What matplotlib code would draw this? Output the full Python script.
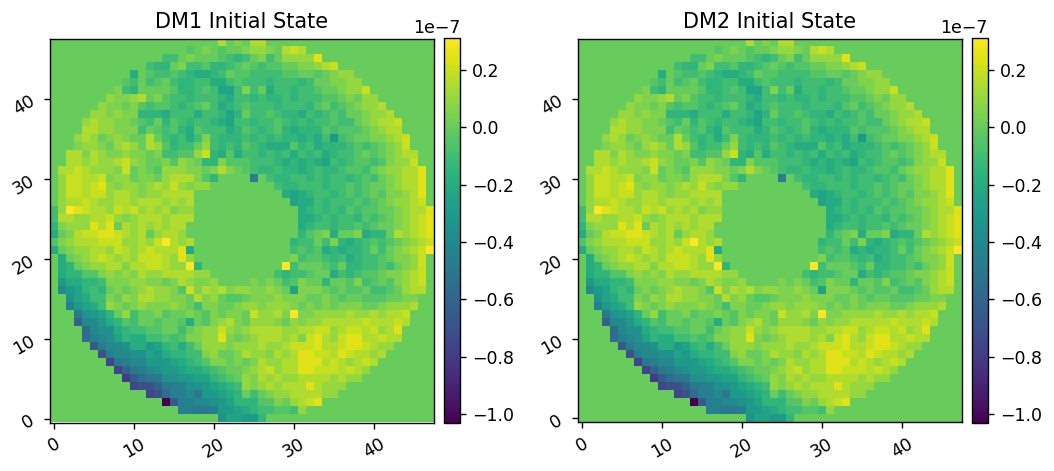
import numpy as np
import matplotlib
matplotlib.use("Agg")
import matplotlib.pyplot as plt

# Colour code of each actuator: 'a'..'z' -> -1.00 .. +0.25 (step 0.05) in units of 1e-7
LEVELS = "abcdefghijklmnopqrstuvwxyz"
SPECIAL = {'.': 0.0, '+': 0.31, '@': -1.03}
UNIT = 1e-7
N_ACT = 48

TITLES = ["DM1 Initial State", "DM2 Initial State"]

# (first column, codes) for rows 47 (top) down to 0 (bottom); '.' = zero / outside pupil
ROW_DATA = [
    (21, "xuvuxx"),
    (16, "utuvutuuvwwvuxyx"),
    (14, "ssuvuuutsrsuvsuwwwwz"),
    (12, "srruvsstrrstutsttuuvvwxy"),
    (10, "qutsstsrqq" "rsut" "tssssttuut" "uvww"),
    (9, "tsustusrrs" "sqqst" "sssrsssrsu" "uvvww"),
    (8, "vsruuuutrr" "stspps" "vsuqssrsst" "uuvwwy"),
    (7, "wvvwxuvtss" "rsssrqs" "srsrrsrsss" "ttuvuww"),
    (6, "wvvuvtstts" "rstusqrs" "tsssrsssrt" "ustuvwwx"),
    (5, "wwvwvvrrrq" "sssqssrpr" "usstsrrqsr" "stsuuvwwx"),
    (4, "wxwwvvutsu" "rtsrssrqps" "srsstsrsrs" "stssuvwxxy"),
    (4, "xxwwvvvsut" "strqtsssqr" "tsrstrqrrr" "tstttuvwxx"),
    (3, "wxwuvwvuux" "usrsqsvsrrr" "srsrsrrqrq" "sostuuvvwxy"),
    (3, "vwwvuwxwux" "wtrssuwsrsr" "tsrqqqtrsq" "rrrststuvwy"),
    (2, "xxvxwvvwvv" "uvssttwyrqtq" "ssrsrsqsrs" "qrsstutuvwxx"),
    (2, "xxwxwwxywv" "uuvtwvurrvtt" "tsssrqrqrq" "psrsttstvwwy"),
    (1, "xxyxwwwvyu" "vutwwwvvuvxvu" "tsrrsrrqrs" "rrsttsuvwwxxz"),
    (1, "wyyxxyvwwu" "vvuwxxxvtruu" ".." "lusrrssrsrssrstsuvwxxz"),
    (1, "wyyxyzwvwwvwxwy" "wvww" "........" "srrs" "ssrsststuuvwxxz"),
    (1, "wyyxyywxxwvwwxxxxu" ".........." "qpq" "rssrststutvvwxz"),
    (1, "wxxyxwwxxwxxxwxwx" "............" "pq" "qsrssststuvwwxy"),
    (0, "sw+zyxxwyxywxwxvww" "............" "uqrsrsrtsttuuvwxxz"),
    (0, "sxxwwxxywvwxxxwxxx" "............" "uqqrsrssrtstuvwxyz"),
    (0, "rvwwwzxzuxwxwxwxx" ".............." "qrssrsststuuvwxyz"),
    (0, "quvxyyzzyxwxuwxxw" ".............." "rtuvquuvqrruxwxyz"),
    (0, "tvwxxxyyywwxwy+xwx" "............" "rssusvrqrststuvwxy"),
    (0, "quvwwxxwyxwxyxxxzq" "............" "ststqrqrrsusuvwxy+"),
    (1, "quvwxyxwxwyyyxwzw" "............" "vsttsrsqrsstuvvwy"),
    (1, "qruvwwxxvxxyyxww+r" ".........." "+suuutsurrsstsuvwy"),
    (1, "qrrttvwvwvxwwxxxxww" "........" "srsstuuqsrsttuvvwxy"),
    (1, "oqqrrsvvvwwvvuvxwvvwuu" ".." "vuvustvuuruutvstutvwxy"),
    (1, "moprsruvuvwxwwvtyvxwxvw" "wvvwvupvvvututtusstuwxx"),
    (2, "npqssvuwvxxwwvvuxvwutt" "uvvvwvvvuuvutuutttuuvv"),
    (2, "lopqswvuvwvvvwvusvvuuv" "wwvwwwvuvuvuvvvuuvwwwx"),
    (3, "knopruwsuuvtuuvutvuvv" "uywwxv+vvwwwwxwwxwxxy"),
    (3, "immoqrtsuutuutqutvwxv" "uwwwvuwvwwxxxxxyxxxyx"),
    (4, "jmnnqrssttuusuvwwywv" "wxxxxwwxxyywxyyxywxz"),
    (4, "jlmnprqqsststvvwwzvu" "vwxxxwxvyzxwyzzxxyxx"),
    (5, "hlmmnqqoprsqsuwwwvw" "wwxwwxyyyzxxyzzyxww"),
    (6, "glmmnnpoqrrssvwuuv" "xwwvxwxzzyyxzyxxwx"),
    (7, "fklmmooopqrstvvuv" "uvxwwxxzzzxyxwxyx"),
    (8, "fiklmnoopqqrstuu" "vwxywxxzzyyyxyxw"),
    (9, "ehjkknnoopprstu" "wvxwxwwxxxxwxww"),
    (10, "fggikllnnopqrs" "wvwxwxxxzxwwwu"),
    (12, "fgjllmkoopqr" "usuvwwxxxxww"),
    (14, "@hllmmnopr" "rrttvuwxyz"),
    (16, "llkkloop" "qrssttsw"),
    (21, "nppoor"),
]


def decode(start, codes):
    vals = np.zeros(N_ACT)
    for i, ch in enumerate(codes):
        c = start + i
        if c >= N_ACT:
            break
        v = SPECIAL[ch] if ch in SPECIAL else -1.0 + 0.05 * LEVELS.index(ch)
        vals[c] = v * UNIT
    return vals


grid = np.array([decode(s, c) for s, c in ROW_DATA])[::-1]  # index 0 = bottom row

W, H, DPI = 1054, 471, 125
fig = plt.figure(figsize=(W / DPI, H / DPI), dpi=DPI)

ax_left = [50, 578]
cb_left = [444, 972]
top, bottom = 38, 423
for k, title in enumerate(TITLES):
    ax = fig.add_axes([ax_left[k] / W, (H - bottom) / H, 384 / W, (bottom - top) / H])
    im = ax.imshow(grid, cmap="viridis", origin="lower")
    ax.set_title(title)
    ax.tick_params(axis="both", labelrotation=30)
    cax = fig.add_axes([cb_left[k] / W, (H - bottom) / H, 16 / W, (bottom - top) / H])
    fig.colorbar(im, cax=cax)

fig.savefig("out.png", dpi=DPI)
